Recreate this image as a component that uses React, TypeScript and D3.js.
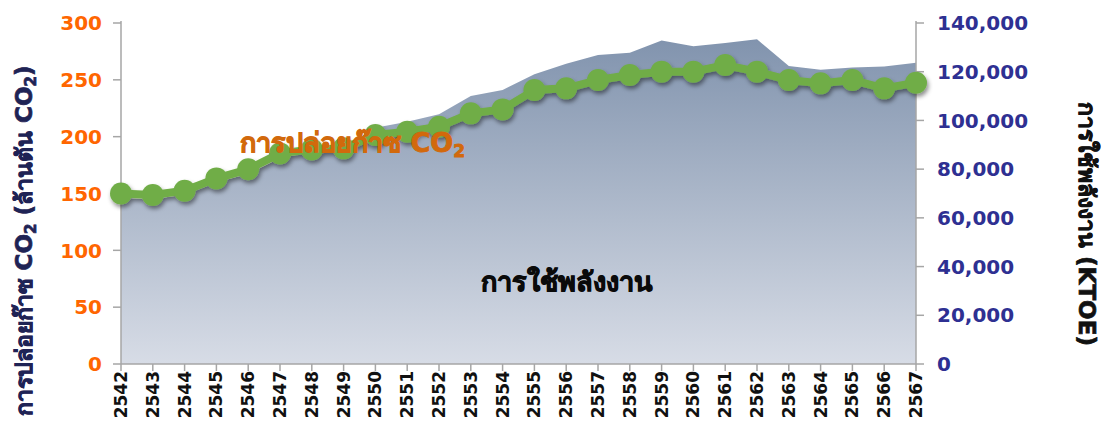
import React from "react";
import * as d3 from "d3";

const years = ["2542","2543","2544","2545","2546","2547","2548","2549","2550","2551","2552","2553","2554","2555","2556","2557","2558","2559","2560","2561","2562","2563","2564","2565","2566","2567"];
const co2 = [150, 148.7, 152.5, 163.3, 171.3, 185.3, 188.8, 189.7, 201.5, 204.4, 208.8, 220.5, 224, 241, 242.5, 249.8, 254.2, 257.2, 257.2, 263, 257.2, 249.8, 246.9, 249.8, 242.5, 247.5];
const energy = [68000, 67500, 69500, 74500, 78000, 84500, 87000, 89000, 97000, 99500, 102500, 110000, 112500, 119000, 123300, 126900, 127800, 132800, 130500, 131800, 133300, 122300, 120800, 121700, 122100, 123700];
const leftTicks = [0, 50, 100, 150, 200, 250, 300];
const rightTicks = [0, 20000, 40000, 60000, 80000, 100000, 120000, 140000];

const W = 1104, H = 433;
const x0 = 121, x1 = 916, yTop = 23, yBot = 364;

export default function App() {
  const x = d3.scalePoint<string>().domain(years).range([x0, x1]);
  const yL = d3.scaleLinear().domain([0, 300]).range([yBot, yTop]);
  const yR = d3.scaleLinear().domain([0, 140000]).range([yBot, yTop]);

  const area = d3.area<number>()
    .x((_, i) => x(years[i])!)
    .y0(yBot)
    .y1((d) => yR(d));
  const line = d3.line<number>()
    .x((_, i) => x(years[i])!)
    .y((d) => yL(d));

  const font = "'DejaVu Sans', Verdana, Tahoma, sans-serif";
  const axisColor = "#A6A6A6";
  const fmt = d3.format(",");

  return (
    <svg width={W} height={H} style={{ position: "absolute", left: 0, top: 0 }} fontFamily={font}>
      <defs>
        <linearGradient id="areaGrad" gradientUnits="userSpaceOnUse" x1="0" y1={yTop} x2="0" y2={yBot}>
          <stop offset="0%" stopColor="#7D90AB" />
          <stop offset="100%" stopColor="#D7DCE6" />
        </linearGradient>
        <filter id="shadow" x="-20%" y="-20%" width="140%" height="160%">
          <feDropShadow dx="1.5" dy="3" stdDeviation="2" floodColor="#000" floodOpacity="0.45" />
        </filter>
      </defs>

      <path d={area(energy)!} fill="url(#areaGrad)" />

      {/* left axis */}
      <line x1={x0} x2={x0} y1={yTop - 2} y2={yBot} stroke={axisColor} strokeWidth={1.5} />
      {leftTicks.map((t) => (
        <g key={"l" + t}>
          <line x1={x0 - 8} x2={x0} y1={yL(t)} y2={yL(t)} stroke={axisColor} strokeWidth={1.5} />
          <text x={102} y={yL(t)} dy="0.36em" textAnchor="end" fill="#FF6600" fontWeight="bold" fontSize={20}>{t}</text>
        </g>
      ))}

      {/* right axis */}
      <line x1={x1} x2={x1} y1={yTop - 2} y2={yBot} stroke={axisColor} strokeWidth={1.5} />
      {rightTicks.map((t) => (
        <g key={"r" + t}>
          <line x1={x1} x2={x1 + 8} y1={yR(t)} y2={yR(t)} stroke={axisColor} strokeWidth={1.5} />
          <text x={937} y={yR(t)} dy="0.36em" textAnchor="start" fill="#2E3092" fontWeight="bold" fontSize={20}>{fmt(t)}</text>
        </g>
      ))}

      {/* bottom axis */}
      <line x1={x0} x2={x1} y1={yBot} y2={yBot} stroke={axisColor} strokeWidth={1.5} />
      {years.map((yr) => (
        <g key={"x" + yr}>
          <line x1={x(yr)} x2={x(yr)} y1={yBot} y2={yBot + 7} stroke={axisColor} strokeWidth={1.5} />
          <text transform={`translate(${x(yr)! + 6},371) rotate(-90)`} textAnchor="end" fill="#111" fontWeight="bold" fontSize={17}>{yr}</text>
        </g>
      ))}

      {/* CO2 line */}
      <g filter="url(#shadow)">
        <path d={line(co2)!} fill="none" stroke="#70AD47" strokeWidth={8} strokeLinejoin="round" />
        {co2.map((v, i) => (
          <circle key={"c" + i} cx={x(years[i])} cy={yL(v)} r={11} fill="#70AD47" />
        ))}
      </g>

      {/* labels */}
      <text x={240} y={152} fill="#D2690C" stroke="#D2690C" strokeWidth={0.9} fontWeight="bold" fontSize={27}>
        การปล่อยก๊าซ CO<tspan fontSize={17} dy={5}>2</tspan>
      </text>
      <text x={566} y={291} textAnchor="middle" fill="#0A0A0A" stroke="#0A0A0A" strokeWidth={0.9} fontWeight="bold" fontSize={27}>การใช้พลังงาน</text>

      <text transform={`translate(32,241) rotate(-90)`} textAnchor="middle" fill="#1F2355" stroke="#1F2355" strokeWidth={0.7} fontWeight="bold" fontSize={23}>
        การปล่อยก๊าซ CO<tspan fontSize={15} dy={4}>2</tspan><tspan dy={-4}> (ล้านตัน CO</tspan><tspan fontSize={15} dy={4}>2</tspan><tspan dy={-4}>)</tspan>
      </text>
      <text transform={`translate(1079,224) rotate(90)`} textAnchor="middle" fill="#111" stroke="#111" strokeWidth={0.7} fontWeight="bold" fontSize={23}>การใช้พลังงาน (KTOE)</text>
    </svg>
  );
}
